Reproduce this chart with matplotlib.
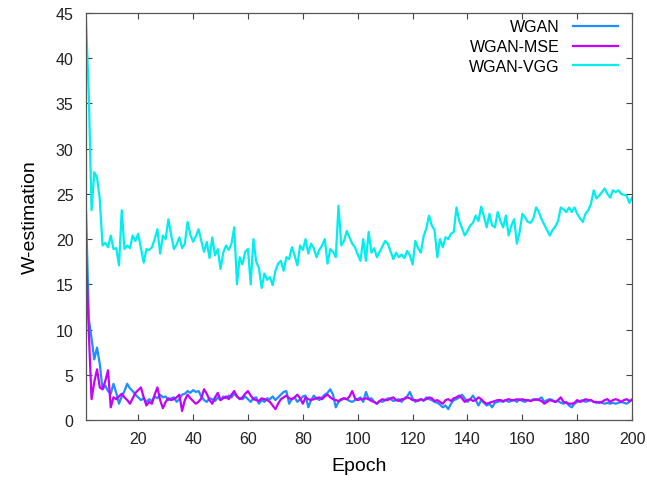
import numpy as np
import matplotlib
matplotlib.use('Agg')
import matplotlib.pyplot as plt

plt.rcParams['font.family'] = ['Liberation Sans', 'DejaVu Sans']

# W-estimation per epoch
wgan = [23.0, 11.2, 9.0, 6.7, 8.0, 6.2, 3.4, 3.8, 3.2, 2.9,
        4.0, 3.0, 1.8, 2.6, 3.2, 4.0, 3.5, 3.2, 2.8, 2.5,
        2.2, 2.4, 2.0, 2.3, 2.1, 2.6, 2.4, 2.8, 2.5, 2.6,
        2.2, 2.4, 2.5, 2.0, 2.3, 2.8, 2.9, 3.2, 3.0, 3.3,
        3.1, 3.2, 2.6, 2.2, 2.0, 2.4, 2.3, 2.1, 2.5, 2.2,
        2.6, 2.4, 2.7, 2.5, 2.9, 2.6, 2.4, 2.3, 2.6, 2.3,
        2.0, 2.4, 2.5, 1.8, 2.2, 2.0, 2.4, 2.3, 2.6, 2.2,
        2.5, 2.8, 3.1, 3.2, 1.8, 2.3, 2.5, 2.0, 2.3, 2.6,
        2.7, 1.4, 2.2, 2.7, 2.4, 2.2, 2.5, 2.8, 3.0, 3.4,
        2.8, 1.4, 2.0, 2.2, 2.4, 2.3, 2.1, 2.0, 2.2, 2.3,
        2.5, 2.0, 3.1, 2.3, 2.4, 2.0, 1.8, 2.1, 2.0, 2.2,
        2.4, 2.3, 2.1, 2.2, 2.3, 2.0, 2.4, 2.6, 3.1, 2.4,
        2.0, 2.2, 2.3, 2.1, 2.5, 2.3, 2.2, 2.0, 1.9, 1.7,
        1.4, 1.6, 1.2, 1.8, 2.2, 2.3, 2.5, 2.8, 2.4, 2.0,
        2.3, 2.7, 2.2, 1.6, 2.2, 1.9, 1.6, 1.8, 1.4, 1.9,
        2.0, 2.1, 2.0, 2.2, 2.0, 2.1, 2.2, 2.0, 2.3, 2.1,
        2.0, 2.2, 2.1, 2.3, 2.2, 2.3, 2.5, 2.0, 2.2, 2.3,
        2.2, 2.0, 2.1, 1.9, 1.8, 2.0, 1.6, 1.4, 1.8, 2.0,
        2.1, 2.2, 2.0, 2.1, 2.2, 2.0, 1.9, 2.0, 1.9, 1.8,
        1.9, 1.8, 1.9, 1.8, 1.9, 2.0, 1.9, 1.8, 2.0, 2.3]

wgan_mse = [18.0, 9.7, 2.3, 4.2, 5.6, 3.6, 3.4, 4.3, 5.5, 1.4,
            2.5, 2.3, 2.6, 2.9, 2.5, 2.2, 1.8, 2.4, 3.0, 3.3,
            3.6, 2.5, 1.6, 2.0, 1.8, 2.8, 3.6, 2.2, 1.3, 2.0,
            2.4, 2.2, 2.3, 2.5, 2.8, 1.0, 2.2, 2.8, 2.4, 2.1,
            1.8, 2.0, 2.4, 3.4, 2.9, 2.2, 1.8, 2.5, 3.0, 2.2,
            2.4, 2.6, 2.3, 2.8, 3.2, 2.6, 2.3, 2.5, 2.9, 3.2,
            2.7, 2.3, 2.2, 2.1, 2.4, 2.3, 2.2, 2.0, 1.6, 1.2,
            1.8, 2.3, 2.5, 2.7, 2.4, 2.3, 2.5, 2.8, 2.4, 1.8,
            2.5, 2.3, 2.2, 2.3, 2.4, 2.5, 2.3, 2.6, 2.8, 2.5,
            2.3, 2.2, 2.1, 2.3, 2.4, 2.3, 2.6, 3.2, 2.4, 2.2,
            2.3, 2.3, 2.4, 2.3, 2.1, 2.0, 1.8, 2.1, 2.3, 2.2,
            2.2, 2.4, 2.5, 2.2, 2.1, 2.3, 2.3, 2.5, 2.4, 2.2,
            2.2, 2.1, 2.3, 2.2, 2.3, 2.5, 2.4, 2.1, 2.2, 2.0,
            1.8, 2.2, 2.3, 2.1, 2.4, 2.5, 2.7, 2.4, 2.0, 2.2,
            2.3, 2.1, 2.2, 2.5, 2.3, 2.0, 1.8, 1.9, 2.0, 2.1,
            2.2, 2.2, 2.1, 2.2, 2.3, 2.2, 2.2, 2.3, 2.2, 2.3,
            2.2, 2.2, 2.1, 2.2, 2.3, 2.2, 2.1, 1.8, 2.0, 2.2,
            2.1, 2.0, 2.2, 2.5, 2.0, 1.9, 1.8, 1.8, 1.9, 2.2,
            2.0, 2.1, 2.3, 2.2, 2.2, 2.0, 2.0, 1.9, 2.0, 2.2,
            2.3, 2.0, 2.2, 2.3, 2.2, 2.0, 2.2, 2.3, 2.1, 2.2]

wgan_vgg = [44.0, 36.0, 23.2, 27.4, 26.8, 24.4, 19.3, 19.6, 19.1, 20.4,
            18.9, 19.0, 17.1, 23.2, 18.9, 19.3, 19.0, 20.4, 19.8, 20.6,
            19.0, 17.4, 18.9, 18.8, 19.1, 20.0, 21.1, 18.4, 20.4, 20.0,
            22.2, 20.5, 18.9, 19.4, 20.2, 19.0, 19.5, 21.9, 20.5, 19.7,
            20.3, 21.1, 19.8, 18.6, 19.7, 17.9, 20.2, 18.2, 18.9, 16.7,
            18.5, 19.3, 18.8, 19.5, 21.3, 15.0, 18.0, 17.2, 18.6, 18.9,
            15.0, 20.0, 17.5, 16.8, 14.6, 16.2, 15.5, 15.8, 14.9, 16.5,
            17.3, 17.6, 16.5, 18.0, 17.8, 19.1, 18.2, 17.1, 19.3, 18.8,
            20.0, 18.4, 19.5, 19.0, 18.0, 18.8, 19.3, 20.0, 17.3, 18.9,
            18.6, 18.0, 23.7, 19.3, 19.8, 20.9, 20.2, 19.5, 19.1, 18.3,
            17.6, 20.0, 17.6, 20.8, 18.5, 19.0, 18.0, 18.6, 19.2, 19.8,
            19.5, 18.6, 17.8, 18.5, 18.0, 18.3, 17.9, 18.7, 18.2, 17.2,
            19.8, 19.0, 18.5, 20.3, 21.2, 22.6, 21.5, 21.0, 18.0, 20.0,
            19.1, 20.2, 20.0, 20.6, 20.8, 23.5, 22.0, 21.2, 20.4, 20.9,
            21.5, 21.8, 22.6, 22.0, 23.6, 22.5, 21.3, 22.8, 21.5, 21.3,
            23.0, 22.0, 21.3, 22.6, 20.4, 21.5, 22.2, 19.5, 20.8, 22.8,
            22.4, 21.9, 21.8, 22.3, 23.5, 23.0, 22.2, 21.6, 21.0, 20.4,
            21.0, 21.4, 22.0, 23.5, 23.3, 23.0, 23.5, 23.0, 23.5, 22.8,
            22.3, 21.9, 22.8, 23.2, 23.9, 25.4, 24.5, 24.8, 25.2, 25.6,
            25.0, 24.6, 25.4, 25.2, 25.4, 25.0, 24.9, 24.8, 24.0, 24.6]

labels = ['WGAN', 'WGAN-MSE', 'WGAN-VGG']
colors = ['#1e8fff', '#c400ff', '#00eeee']
xticks = [20, 40, 60, 80, 100, 120, 140, 160, 180, 200]
yticks = [0, 5, 10, 15, 20, 25, 30, 35, 40, 45]

fig = plt.figure(figsize=(6.47, 4.85), dpi=100)
ax = fig.add_axes([0.133, 0.132, 0.844, 0.839])

for series, lab, col in zip([wgan, wgan_mse, wgan_vgg], labels, colors):
    epochs = np.arange(1, len(series) + 1)
    ax.plot(epochs, series, color=col, lw=1.6, label=lab)

ax.set_xlim(1, 200)
ax.set_ylim(0, 45)
ax.set_xticks(xticks)
ax.set_yticks(yticks)
ax.tick_params(direction='in', length=4, width=0.8, color='#444444',
               top=True, right=True, labelsize=11.5, labelcolor='#222222')
ax.tick_params(axis='y', pad=9)
ax.tick_params(axis='x', pad=8)
for s in ax.spines.values():
    s.set_color('#555555')
    s.set_linewidth(0.9)

ax.set_xlabel('Epoch', fontsize=14, labelpad=8)
ax.set_ylabel('W-estimation', fontsize=14, labelpad=12)

leg = ax.legend(loc='upper right', frameon=False, fontsize=11.5,
                markerfirst=False, handlelength=2.8, labelspacing=0.3,
                borderaxespad=0.0, bbox_to_anchor=(0.985, 1.0))
for t in leg.get_texts():
    t.set_ha('right')

fig.savefig('out.png', dpi=100)
